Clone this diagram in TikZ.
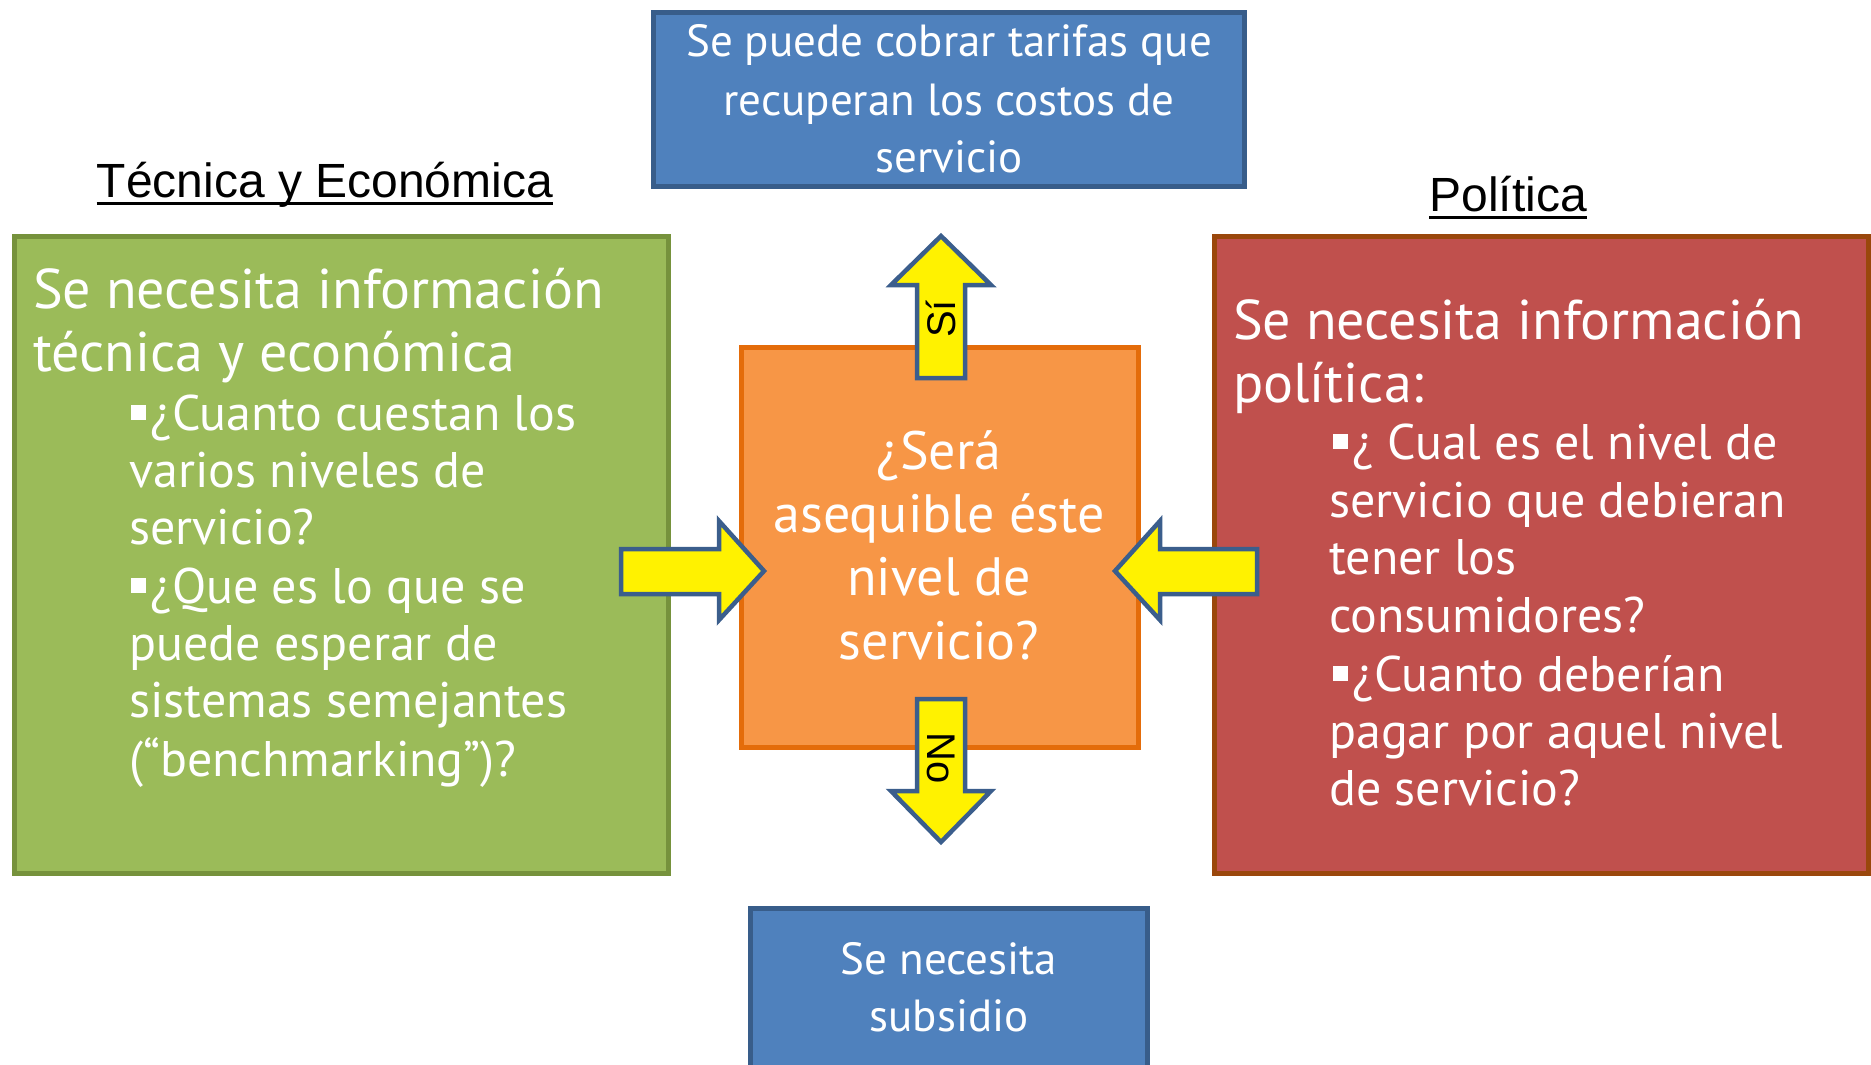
\documentclass[tikz,border=0pt]{standalone}
\usepackage{fontspec}
\setmainfont{Liberation Sans}
\newfontfamily\bodyfont{PT Sans}
\definecolor{bluefill}{HTML}{4F81BD}
\definecolor{blueline}{HTML}{385D8A}
\definecolor{greenfill}{HTML}{9BBB59}
\definecolor{greenline}{HTML}{76923C}
\definecolor{redfill}{HTML}{C0504D}
\definecolor{redline}{HTML}{9A470C}
\definecolor{orangefill}{HTML}{F79646}
\definecolor{orangeline}{HTML}{E46C0A}
\definecolor{arrowline}{HTML}{3B5E8C}
\newcommand{\bulsq}{\rule[10pt]{15pt}{15pt}\kern4pt}
\begin{document}
\begin{tikzpicture}
		[x=1pt,y=-1pt,
		box/.style={draw,line width=5pt,inner sep=0pt},
		greenbox/.style={box,draw=greenline,fill=greenfill},
		redbox/.style={box,draw=redline,fill=redfill},
		orangebox/.style={box,draw=orangeline,fill=orangefill},
		bluebox/.style={box,draw=blueline,fill=bluefill},
		yarrow/.style={draw=arrowline,fill=yellow,line width=4.5pt,line join=miter},
		headtext/.style={anchor=base west,inner sep=0pt,text=white,font=\bodyfont\fontsize{56}{62}\selectfont},
		bullettext/.style={anchor=base west,inner sep=0pt,text=white,font=\bodyfont\fontsize{50}{57}\selectfont},
		centertext/.style={anchor=base,inner sep=0pt,text=white,font=\bodyfont\fontsize{54}{63}\selectfont},
		bluetext/.style={anchor=base,inner sep=0pt,text=white,font=\bodyfont\fontsize{45}{57}\selectfont},
		titletext/.style={anchor=base,inner sep=0pt,font=\fontsize{48}{55}\selectfont},
		yesno/.style={inner sep=0pt,font=\fontsize{40}{44}\selectfont},
		uline/.style={line width=3pt}]
		\useasboundingbox (0,0) rectangle (1871,1065);
		% boxes
		\node[greenbox,minimum width=654pt,minimum height=637pt] (tecbox) at (341.5,555) {};
		\node[redbox,minimum width=654pt,minimum height=637pt] (polbox) at (1541.5,555) {};
		\node[orangebox,minimum width=397pt,minimum height=400pt] (askbox) at (940,547.5) {};
		\node[bluebox,minimum width=591pt,minimum height=174pt] (sibox) at (949,99.5) {};
		\node[bluebox,minimum width=397pt,minimum height=180pt] (nobox) at (949,998.5) {};
		% titles
		\node[titletext] (tectitle) at (325,197) {Técnica y Económica};
		\draw[uline] ([yshift=-6pt]tectitle.base west) -- ([yshift=-6pt]tectitle.base east);
		\node[titletext] (poltitle) at (1508,211) {Política};
		\draw[uline] ([yshift=-6pt]poltitle.base west) -- ([yshift=-6pt]poltitle.base east);
		% block arrows
		\draw[yarrow] (917,378) -- (917,285) -- (891,285) -- (941,236) -- (991,285) -- (965,285) -- (965,378) -- cycle;
		\draw[yarrow] (917,699) -- (917,791) -- (891,791) -- (941,842) -- (991,791) -- (965,791) -- (965,699) -- cycle;
		\draw[yarrow] (621,549) -- (719,549) -- (719,521) -- (764,571) -- (719,620) -- (719,594) -- (621,594) -- cycle;
		\draw[yarrow] (1257,549) -- (1160,549) -- (1160,521) -- (1115,571) -- (1160,620) -- (1160,594) -- (1257,594) -- cycle;
		\node[yesno,rotate=90] (si) at (941,319) {Sí};
		\node[yesno,rotate=-90] (no) at (941,758) {No};
		% green box text
		\node[headtext] (tec1) at (33,308) {Se necesita información};
		\node[headtext] (tec2) at (33,371) {técnica y económica};
		\foreach \x/\y/\t [count=\i] in {131/430/{\bulsq¿Cuanto cuestan los},129/487/{varios niveles de},
			129/544/{servicio?},131/603/{\bulsq¿Que es lo que se},129/660/{puede esperar de},
			129/717/{sistemas semejantes},129/776/{(“benchmarking”)?}}
			\node[bullettext] (tecq\i) at (\x,\y) {\t};
		% red box text
		\node[headtext] (pol1) at (1233,339) {Se necesita información};
		\node[headtext] (pol2) at (1233,402) {política:};
		\foreach \x/\y/\t [count=\i] in {1333/459/{\bulsq¿ Cual es el nivel de},1329/517/{servicio que debieran},
			1329/574/{tener los},1329/632/{consumidores?},1333/691/{\bulsq¿Cuanto deberían},
			1329/748/{pagar por aquel nivel},1329/805/{de servicio?}}
			\node[bullettext] (polq\i) at (\x,\y) {\t};
		% centre text
		\foreach \y/\t [count=\i] in {469/{¿Será},532/{asequible éste},595/{nivel de},659/{servicio?}}
			\node[centertext] (ask\i) at (939,\y) {\t};
		% blue box text
		\foreach \y/\t [count=\i] in {57/{Se puede cobrar tarifas que},115/{recuperan los costos de},172/{servicio}}
			\node[bluetext] (si\i) at (949,\y) {\t};
		\foreach \y/\t [count=\i] in {974/{Se necesita},1031/{subsidio}}
			\node[bluetext] (no\i) at (949,\y) {\t};
\end{tikzpicture}
\end{document}
